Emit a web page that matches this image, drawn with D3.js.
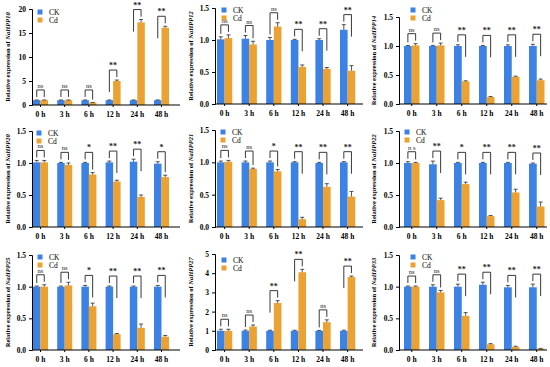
<!DOCTYPE html>
<html>
<head>
<meta charset="utf-8">
<script src="https://cdn.jsdelivr.net/npm/d3@7"></script>
<style>
  body { margin: 0; background: #fff; }
  svg text { font-family: "Liberation Serif", "DejaVu Serif", serif; }
</style>
</head>
<body>
<div id="chart"></div>
<script>
// time points (x axis)
const times = ["0 h", "3 h", "6 h", "12 h", "24 h", "48 h"];
const groups = ["CK", "Cd"];

// values: mean and error per time point
const hpp10_ck = [1.00, 1.00, 1.00, 1.00, 1.00, 1.00];
const hpp10_ckErr = [0.05, 0.05, 0.05, 0.05, 0.05, 0.05];
const hpp10_cd = [1.00, 1.00, 0.50, 5.00, 17.2, 16.1];
const hpp10_cdErr = [0.05, 0.05, 0.03, 0.20, 0.60, 0.30];
const hpp10_sig = ["ns", "ns", "ns", "**", "**", "**"];

const hpp12_ck = [1.01, 1.02, 1.00, 1.00, 1.00, 1.16];
const hpp12_ckErr = [0.04, 0.05, 0.04, 0.01, 0.02, 0.08];
const hpp12_cd = [1.03, 0.93, 1.21, 0.58, 0.55, 0.52];
const hpp12_cdErr = [0.05, 0.05, 0.06, 0.03, 0.02, 0.08];
const hpp12_sig = ["ns", "ns", "ns", "**", "**", "**"];

const hpp14_ck = [1.00, 1.00, 1.00, 1.00, 1.00, 1.00];
const hpp14_ckErr = [0.01, 0.01, 0.02, 0.01, 0.02, 0.03];
const hpp14_cd = [1.01, 1.01, 0.39, 0.12, 0.47, 0.41];
const hpp14_cdErr = [0.03, 0.04, 0.01, 0.01, 0.01, 0.02];
const hpp14_sig = ["ns", "ns", "**", "**", "**", "**"];

const hpp20_ck = [1.01, 1.00, 1.00, 1.01, 1.02, 0.99];
const hpp20_ckErr = [0.03, 0.01, 0.01, 0.02, 0.04, 0.03];
const hpp20_cd = [1.01, 0.97, 0.82, 0.71, 0.47, 0.78];
const hpp20_cdErr = [0.03, 0.03, 0.03, 0.02, 0.03, 0.03];
const hpp20_sig = ["ns", "ns", "*", "**", "**", "*"];

const hpp21_ck = [1.00, 1.00, 1.00, 1.00, 0.99, 1.00];
const hpp21_ckErr = [0.02, 0.02, 0.02, 0.01, 0.01, 0.01];
const hpp21_cd = [1.01, 0.90, 0.86, 0.12, 0.62, 0.47];
const hpp21_cdErr = [0.02, 0.01, 0.03, 0.03, 0.05, 0.08];
const hpp21_sig = ["ns", "ns", "*", "**", "**", "**"];

const hpp22_ck = [1.00, 0.98, 1.00, 1.00, 1.00, 0.99];
const hpp22_ckErr = [0.02, 0.05, 0.01, 0.01, 0.01, 0.01];
const hpp22_cd = [1.00, 0.42, 0.67, 0.17, 0.54, 0.32];
const hpp22_cdErr = [0.01, 0.03, 0.03, 0.01, 0.05, 0.07];
const hpp22_sig = ["n s", "**", "*", "**", "**", "**"];

const hpp25_ck = [1.00, 1.00, 1.00, 1.00, 1.00, 1.00];
const hpp25_ckErr = [0.01, 0.01, 0.02, 0.01, 0.01, 0.02];
const hpp25_cd = [1.00, 1.02, 0.69, 0.25, 0.35, 0.21];
const hpp25_cdErr = [0.03, 0.05, 0.05, 0.01, 0.06, 0.02];
const hpp25_sig = ["ns", "ns", "*", "**", "**", "**"];

const hpp27_ck = [1.00, 1.00, 1.00, 1.00, 1.00, 1.00];
const hpp27_ckErr = [0.08, 0.04, 0.03, 0.03, 0.02, 0.03];
const hpp27_cd = [1.00, 1.22, 2.45, 4.05, 1.45, 3.80];
const hpp27_cdErr = [0.08, 0.08, 0.12, 0.15, 0.12, 0.05];
const hpp27_sig = ["ns", "ns", "**", "**", "ns", "**"];

const hpp33_ck = [1.00, 1.00, 1.00, 1.03, 0.99, 0.99];
const hpp33_ckErr = [0.01, 0.03, 0.04, 0.04, 0.03, 0.05];
const hpp33_cd = [1.00, 0.91, 0.54, 0.09, 0.05, 0.02];
const hpp33_cdErr = [0.01, 0.03, 0.05, 0.01, 0.01, 0.005];
const hpp33_sig = ["ns", "ns", "**", "**", "**", "**"];

// y axis ticks
const ticks20 = [0, 5, 10, 15, 20];
const ticks15 = [0, 0.5, 1.0, 1.5];
const ticks5 = [0, 1, 2, 3, 4, 5];

const genes = ["NaHPP10", "NaHPP12", "NaHPP14", "NaHPP20", "NaHPP21", "NaHPP22", "NaHPP25", "NaHPP27", "NaHPP33"];

const panels = [
  { ck: hpp10_ck, ckErr: hpp10_ckErr, cd: hpp10_cd, cdErr: hpp10_cdErr, sig: hpp10_sig, ticks: ticks20, fmt: d3.format("d") },
  { ck: hpp12_ck, ckErr: hpp12_ckErr, cd: hpp12_cd, cdErr: hpp12_cdErr, sig: hpp12_sig, ticks: ticks15, fmt: d3.format(".1f") },
  { ck: hpp14_ck, ckErr: hpp14_ckErr, cd: hpp14_cd, cdErr: hpp14_cdErr, sig: hpp14_sig, ticks: ticks15, fmt: d3.format(".1f") },
  { ck: hpp20_ck, ckErr: hpp20_ckErr, cd: hpp20_cd, cdErr: hpp20_cdErr, sig: hpp20_sig, ticks: ticks15, fmt: d3.format(".1f") },
  { ck: hpp21_ck, ckErr: hpp21_ckErr, cd: hpp21_cd, cdErr: hpp21_cdErr, sig: hpp21_sig, ticks: ticks15, fmt: d3.format(".1f") },
  { ck: hpp22_ck, ckErr: hpp22_ckErr, cd: hpp22_cd, cdErr: hpp22_cdErr, sig: hpp22_sig, ticks: ticks15, fmt: d3.format(".1f") },
  { ck: hpp25_ck, ckErr: hpp25_ckErr, cd: hpp25_cd, cdErr: hpp25_cdErr, sig: hpp25_sig, ticks: ticks15, fmt: d3.format(".1f") },
  { ck: hpp27_ck, ckErr: hpp27_ckErr, cd: hpp27_cd, cdErr: hpp27_cdErr, sig: hpp27_sig, ticks: ticks5, fmt: d3.format("d") },
  { ck: hpp33_ck, ckErr: hpp33_ckErr, cd: hpp33_cd, cdErr: hpp33_cdErr, sig: hpp33_sig, ticks: ticks15, fmt: d3.format(".1f") }
];

/* layout */
const W = 550, H = 367;
const colX = [0, 183, 366];
const rowY = [0, 120, 242];
const plotTop = [9, 8, 17, 11, 10, 11, 13, 12, 13];
const plotBottom = [105, 104, 104, 107, 107, 107, 108, 108, 108];
const axisLeftX = [32, 32, 33];
const axisRightX = [180, 180, 181];
const barStart = [33, 34, 38];
const step = [24.2, 24.6, 25];
// legend position (centre of the CK square) per panel
const legendX = [40, 41, 47, 39, 40, 41, 40, 41, 47];
const legendY = [12, 10, 10, 13, 12, 12, 15, 18, 15];
const color = { CK: "#3c82e4", Cd: "#eba233" };

const svg = d3.select("#chart").append("svg")
  .attr("width", W).attr("height", H);

panels.forEach((p, k) => {
  const c = k % 3, r = Math.floor(k / 3);
  const g = svg.append("g").attr("transform", `translate(${colX[c]},${rowY[r]})`);

  const a = barStart[c] - 0.2 * step[c];
  const x = d3.scaleBand().domain(times)
    .range([a, a + 6.02 * step[c]])
    .paddingInner(0.38).paddingOuter(0.2);
  const xs = d3.scaleBand().domain(groups).range([0, x.bandwidth()]);
  const y = d3.scaleLinear()
    .domain([0, d3.max(p.ticks)])
    .range([plotBottom[k], plotTop[k]]);

  // bars
  const rows = times.map((t, i) => ({ t, i }));
  groups.forEach(gr => {
    const vals = gr === "CK" ? p.ck : p.cd;
    const errs = gr === "CK" ? p.ckErr : p.cdErr;
    g.selectAll(null).data(rows).join("rect")
      .attr("x", d => x(d.t) + xs(gr))
      .attr("y", d => y(vals[d.i]))
      .attr("width", xs.bandwidth())
      .attr("height", d => y(0) - y(vals[d.i]))
      .attr("fill", color[gr]);
    // error bars
    const eb = g.selectAll(null).data(rows).join("g")
      .attr("stroke", "#2a2a2a").attr("stroke-width", 0.8);
    eb.append("line")
      .attr("x1", d => x(d.t) + xs(gr) + xs.bandwidth() / 2)
      .attr("x2", d => x(d.t) + xs(gr) + xs.bandwidth() / 2)
      .attr("y1", d => y(vals[d.i]))
      .attr("y2", d => y(vals[d.i] + errs[d.i]));
    eb.append("line")
      .attr("x1", d => x(d.t) + xs(gr) + xs.bandwidth() / 2 - 2)
      .attr("x2", d => x(d.t) + xs(gr) + xs.bandwidth() / 2 + 2)
      .attr("y1", d => y(vals[d.i] + errs[d.i]))
      .attr("y2", d => y(vals[d.i] + errs[d.i]));
  });

  // significance brackets
  rows.forEach(d => {
    const ckTop = y(p.ck[d.i] + p.ckErr[d.i]);
    const cdTop = y(p.cd[d.i] + p.cdErr[d.i]);
    const top = Math.min(ckTop, cdTop) - 10;
    const xl = x(d.t) + xs("CK") + xs.bandwidth() / 2;
    const xr = x(d.t) + xs("Cd") + xs.bandwidth() / 2;
    const yl = top + Math.min(ckTop - top - 3, 22);
    const yr = top + Math.min(cdTop - top - 3, 22);
    g.append("path")
      .attr("d", `M${xl},${yl}V${top}H${xr}V${yr}`)
      .attr("fill", "none").attr("stroke", "#222").attr("stroke-width", 0.9);
    const s = p.sig[d.i];
    g.append("text")
      .attr("x", (xl + xr) / 2)
      .attr("y", top - 2)
      .attr("text-anchor", "middle")
      .attr("font-size", s.includes("*") ? 8 : 6.5)
      .attr("font-weight", s.includes("*") ? "bold" : "normal")
      .attr("fill", "#222")
      .text(s);
  });

  // axes
  const yAxis = d3.axisLeft(y).tickValues(p.ticks).tickFormat(p.fmt).tickSize(3);
  g.append("g").attr("transform", `translate(${axisLeftX[c]},0)`)
    .call(yAxis)
    .call(s => s.selectAll("text").attr("font-size", 7.5).attr("font-weight", "bold")
      .attr("font-family", "Liberation Serif").attr("fill", "#000"))
    .call(s => s.selectAll("path,line").attr("stroke", "#000").attr("stroke-width", 1));

  const xAxis = d3.axisBottom(x).tickSize(2).tickSizeOuter(0);
  g.append("g").attr("transform", `translate(0,${y(0)})`)
    .call(xAxis)
    .call(s => s.select(".domain").remove())
    .call(s => s.selectAll("line").attr("stroke", "#000"))
    .call(s => s.selectAll("text").attr("font-size", 7.5).attr("font-weight", "bold")
      .attr("font-family", "Liberation Serif").attr("fill", "#000").attr("dy", "0.95em"));
  g.append("line")
    .attr("x1", axisLeftX[c]).attr("x2", axisRightX[c])
    .attr("y1", y(0)).attr("y2", y(0))
    .attr("stroke", "#000").attr("stroke-width", 1);

  // y label
  const yl = g.append("text")
    .attr("transform", `translate(10,${(plotTop[k] + plotBottom[k]) / 2}) rotate(-90)`)
    .attr("text-anchor", "middle")
    .attr("font-size", 6.5)
    .attr("font-weight", "bold")
    .attr("fill", "#000");
  yl.append("tspan").text("Relative expression of  ");
  yl.append("tspan").attr("font-style", "italic").text(genes[k]);

  // legend
  groups.forEach((gr, j) => {
    g.append("rect")
      .attr("x", legendX[k] - 2.5).attr("y", legendY[k] + j * 8 - 2.5)
      .attr("width", 5).attr("height", 5)
      .attr("fill", color[gr]);
    g.append("text")
      .attr("x", legendX[k] + 9).attr("y", legendY[k] + j * 8 + 2.5)
      .attr("font-size", 7.5)
      .attr("fill", "#000")
      .text(gr);
  });
});
</script>
</body>
</html>
